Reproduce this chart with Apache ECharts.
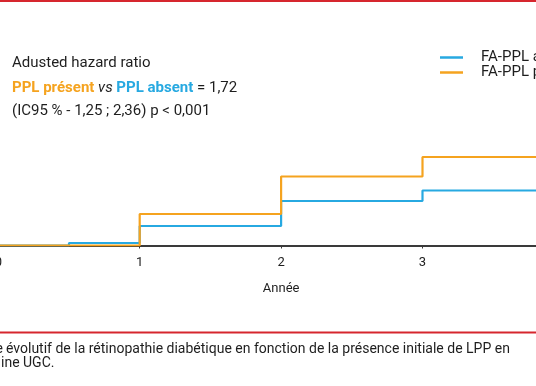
<!DOCTYPE html>
<html>
<head>
<meta charset="utf-8">
<script src="https://cdn.jsdelivr.net/npm/echarts@6/dist/echarts.min.js"></script>
<style>html,body{margin:0;padding:0;background:#fff;}#c{width:536px;height:386px;}</style>
</head>
<body>
<div id="c"></div>
<script>
// Data
const years = [0, 1, 2, 3, 4];
const absentX = [0, 0.5, 1, 2, 3, 4];
const absentY = [0, 0.5, 3.9, 8.9, 11.0, 11.0];
const presentX = [0, 1, 2, 3, 4];
const presentY = [0, 6.3, 13.8, 17.7, 17.7];
const seriesNames = ['FA-PPL absent', 'FA-PPL présent'];
const xTickLabels = ['0', '1', '2', '3', '4'];
const xAxisName = 'Année';
const noteLines = ['Adusted hazard ratio', 'PPL présent', 'vs', 'PPL absent', '= 1,72', '(IC95 % - 1,25 ; 2,36) p < 0,001'];
const captionLine1Hidden = 'Risque';
const captionLine1 = 'évolutif de la rétinopathie diabétique en fonction de la présence initiale de LPP en';
const captionLine2 = 'ine UGC.';

const BLUE = '#27a9e1';
const ORANGE = '#f5a31f';
const RED = '#d6262e';
const FONT = 'Roboto';
const INK = '#1e1e1e';

const chart = echarts.init(document.getElementById('c'));
chart.setOption({
  animation: false,
  textStyle: { fontFamily: FONT },
  grid: { left: -1.7, right: -27.9, top: 45.5, bottom: 140.5, containLabel: false, outerBoundsMode: 'none' },
  xAxis: {
    type: 'value', min: 0, max: 4, interval: 1,
    name: xAxisName, nameLocation: 'middle', nameGap: 37,
    nameTextStyle: { fontFamily: FONT, fontSize: 13, color: INK },
    axisLine: { lineStyle: { color: '#3a3a3a', width: 2 } },
    axisTick: { show: true, length: 3, lineStyle: { color: '#3a3a3a', width: 1 } },
    axisLabel: { fontFamily: FONT, fontSize: 13, color: INK, margin: 11,
      formatter: v => xTickLabels[years.indexOf(v)] },
    splitLine: { show: false }
  },
  yAxis: { type: 'value', min: 0, max: 40, show: false, splitLine: { show: false } },
  legend: {
    orient: 'vertical', left: 440, top: 50, itemGap: 0, padding: 0,
    itemWidth: 23, itemHeight: 2.5, icon: 'rect',
    data: seriesNames,
    textStyle: { fontFamily: FONT, fontSize: 15, color: INK, lineHeight: 13, padding: [0, 0, 0, 13] }
  },
  series: [
    { name: seriesNames[0], type: 'line', step: 'end', showSymbol: false, symbol: 'none',
      lineStyle: { color: BLUE, width: 2.2 }, itemStyle: { color: BLUE },
      data: absentX.map((x, i) => [x, absentY[i]]) },
    { name: seriesNames[1], type: 'line', step: 'end', showSymbol: false, symbol: 'none',
      lineStyle: { color: ORANGE, width: 2.2 }, itemStyle: { color: ORANGE },
      data: presentX.map((x, i) => [x, presentY[i]]) }
  ],
  graphic: [
    { type: 'rect', shape: { x: 0, y: 0, width: 536, height: 2 }, style: { fill: RED } },
    { type: 'rect', shape: { x: 0, y: 331.5, width: 536, height: 2 }, style: { fill: RED } },
    { type: 'text', x: 12, y: 63, style: { text: noteLines[0], font: '15px ' + FONT, fill: INK, verticalAlign: 'middle' } },
    { type: 'text', x: 12, y: 88, style: {
        text: '{o|' + noteLines[1] + '} {i|' + noteLines[2] + '} {b|' + noteLines[3] + '} {n|' + noteLines[4] + '}',
        verticalAlign: 'middle', font: '15px ' + FONT,
        rich: {
          o: { fill: ORANGE, fontFamily: FONT, fontSize: 15, fontWeight: 'bold' },
          i: { fill: INK, fontFamily: FONT, fontSize: 15, fontStyle: 'italic' },
          b: { fill: BLUE, fontFamily: FONT, fontSize: 15, fontWeight: 'bold' },
          n: { fill: INK, fontFamily: FONT, fontSize: 15 }
        } } },
    { type: 'text', x: 12, y: 111, style: { text: noteLines[5], font: '15px ' + FONT, fill: INK, verticalAlign: 'middle' } },
    { type: 'text', x: 3, y: 349, style: { text: captionLine1Hidden, font: '14px ' + FONT, fill: INK, align: 'right', verticalAlign: 'middle' } },
    { type: 'text', x: 6, y: 349, style: { text: captionLine1, font: '14px ' + FONT, fill: INK, verticalAlign: 'middle' } },
    { type: 'text', x: 1, y: 363, style: { text: captionLine2, font: '14px ' + FONT, fill: INK, verticalAlign: 'middle' } }
  ]
});
</script>
</body>
</html>
